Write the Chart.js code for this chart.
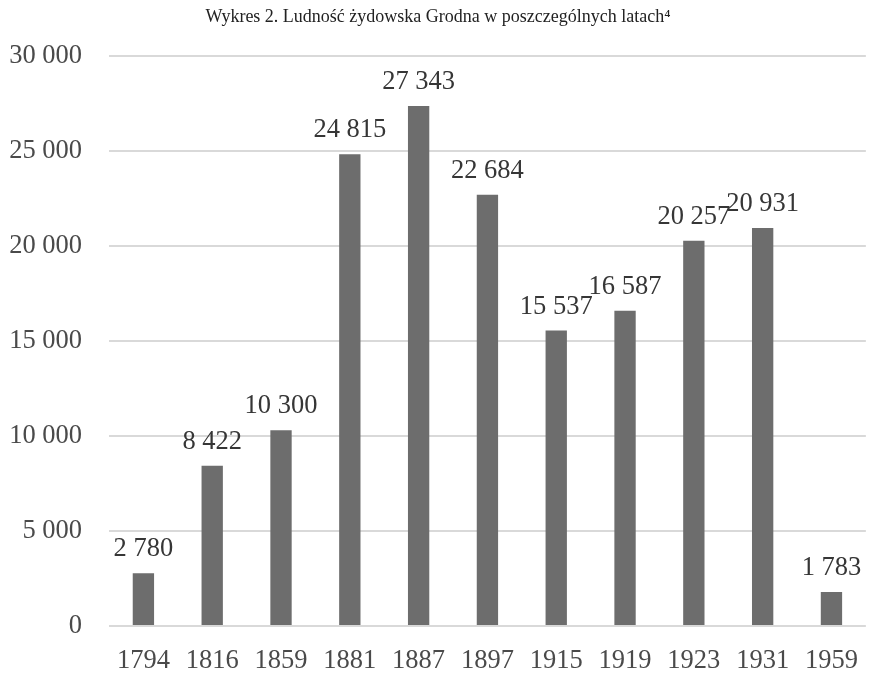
<!DOCTYPE html>
<html>
<head>
<meta charset="utf-8">
<script src="https://cdn.jsdelivr.net/npm/chart.js@4"></script>
<style>
  html, body { margin: 0; padding: 0; background: #fff; }
  #wrap { width: 877px; height: 673px; }
</style>
</head>
<body>
<div id="wrap"><canvas id="grodno"></canvas></div>
<script>
const years = ['1794', '1816', '1859', '1881', '1887', '1897', '1915', '1919', '1923', '1931', '1959'];
const jews = [2780, 8422, 10300, 24815, 27343, 22684, 15537, 16587, 20257, 20931, 1783];
const yTicks = [0, 5000, 10000, 15000, 20000, 25000, 30000];

const serif = '"Liberation Serif", "Times New Roman", serif';

// 30000 -> "30 000"
function spaced(n) {
  return String(n).replace(/\B(?=(\d{3})+(?!\d))/g, ' ');
}

/* labels above bars, Excel style */
const barLabels = {
  id: 'barLabels',
  afterDatasetsDraw(chart) {
    const ctx = chart.ctx;
    const meta = chart.getDatasetMeta(0);
    ctx.save();
    ctx.font = '26.5px ' + serif;
    ctx.fillStyle = '#363636';
    ctx.textAlign = 'center';
    ctx.textBaseline = 'middle';
    meta.data.forEach((bar, i) => {
      ctx.fillText(spaced(jews[i]), bar.x, bar.y - 24);
    });
    ctx.restore();
  }
};

new Chart(document.getElementById('grodno'), {
  type: 'bar',
  data: {
    labels: years,
    datasets: [{
      label: 'Ludność żydowska',
      data: jews,
      backgroundColor: '#6d6d6d',
      borderWidth: 0,
      categoryPercentage: 0.31,
      barPercentage: 1
    }]
  },
  options: {
    responsive: true,
    maintainAspectRatio: false,
    animation: false,
    layout: { padding: { left: 0, right: 1, top: 0, bottom: 0 } },
    plugins: {
      legend: { display: false },
      tooltip: { enabled: false },
      title: {
        display: true,
        text: 'Wykres 2. Ludność żydowska Grodna w poszczególnych latach⁴',
        color: '#222',
        font: { family: serif, size: 18, weight: 'normal' },
        padding: { top: 6, bottom: 28 }
      }
    },
    scales: {
      x: {
        grid: { display: false, drawTicks: false },
        border: { display: false },
        ticks: {
          color: '#4a4a4a',
          font: { family: serif, size: 26.5 },
          padding: 19,
          maxRotation: 0
        },
        afterFit(scale) { scale.height = 47; }
      },
      y: {
        min: 0,
        max: 30000,
        afterBuildTicks(scale) { scale.ticks = yTicks.map(v => ({ value: v })); },
        grid: { color: '#d9d9d9', lineWidth: 2, drawTicks: false },
        border: { display: false },
        ticks: {
          color: '#4a4a4a',
          font: { family: serif, size: 26.5 },
          padding: 27,
          callback: v => spaced(v)
        },
        afterFit(scale) { scale.width = 109; }
      }
    }
  },
  plugins: [barLabels]
});
</script>
</body>
</html>
